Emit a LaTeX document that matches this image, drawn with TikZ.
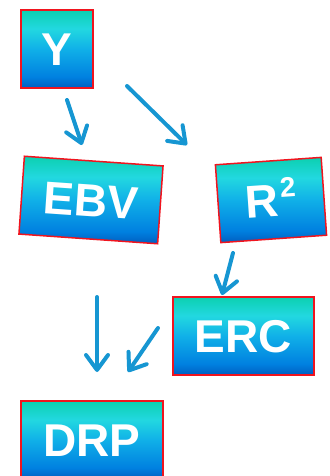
\documentclass[tikz,border=0pt]{standalone}
\usepackage{fontspec}
\setmainfont{Liberation Sans}
\usetikzlibrary{arrows.meta}
\definecolor{gbot}{RGB}{0,94,192}
\definecolor{gblue}{RGB}{0,128,224}
\definecolor{gmid}{RGB}{16,176,232}
\definecolor{gcyan}{RGB}{34,216,224}
\definecolor{gtop}{RGB}{12,208,176}
\definecolor{bred}{RGB}{240,20,30}
\definecolor{arr}{RGB}{22,150,210}
\pgfdeclareverticalshading{boxgrad}{100bp}{color(0bp)=(gbot); color(25bp)=(gbot); color(32bp)=(gblue); color(50bp)=(gmid); color(63bp)=(gcyan); color(75bp)=(gtop); color(100bp)=(gtop)}
\tikzset{
  box/.style={draw=bred, line width=1.5pt, shading=boxgrad, inner sep=0pt,
    minimum height=78pt, text=white,
    font=\fontsize{46}{46}\selectfont\bfseries, text height=33pt, text depth=0pt},
  conn/.style={draw=arr, line width=4pt, line cap=round,
    -{Straight Barb[length=15pt,width=22pt,round]}}
}
\begin{document}
\begin{tikzpicture}[x=1pt,y=-1pt]
\useasboundingbox (0,0) rectangle (329,476);
\clip (0,0) rectangle (329,476);
\node[box, minimum width=72pt] (Y) at (57,49) {Y};
\node[box, minimum width=139pt, rotate=-4] (EBV) at (91,200) {EBV};
\node[box, minimum width=106pt, rotate=4] (R2) at (271,200) {R\kern2pt\raisebox{18pt}{\fontsize{28}{28}\selectfont 2}};
\node[box, minimum width=141pt] (ERC) at (243.5,336) {ERC};
\node[box, minimum width=142pt] (DRP) at (92,440) {DRP};
\coordinate (a1s) at (67,100);
\coordinate (a1e) at (82,145);
\coordinate (a2s) at (127,86);
\coordinate (a2e) at (187,145);
\coordinate (a3s) at (233,253);
\coordinate (a3e) at (222,295);
\coordinate (a4s) at (97,297);
\coordinate (a4e) at (97,372);
\coordinate (a5s) at (158,328);
\coordinate (a5e) at (128,372);
\draw[conn] (a1s) -- (a1e);
\draw[conn] (a2s) -- (a2e);
\draw[conn] (a3s) -- (a3e);
\draw[conn] (a4s) -- (a4e);
\draw[conn] (a5s) -- (a5e);
\end{tikzpicture}
\end{document}
